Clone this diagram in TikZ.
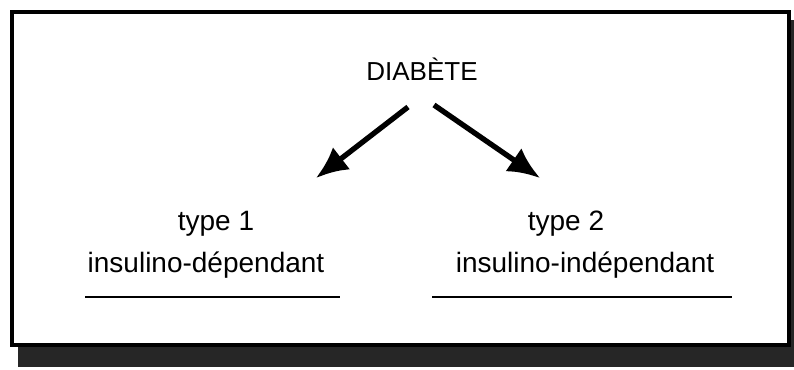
\documentclass[tikz,border=0pt]{standalone}
\usepackage{fontspec}
\setmainfont{Liberation Sans}
\usetikzlibrary{arrows.meta,positioning}

\begin{document}
\begin{tikzpicture}[
  x=0.75pt,y=-0.75pt,
  txt/.style={font=\fontsize{21}{24}\selectfont,inner sep=0pt,anchor=base},
  arrow/.style={-{Latex[length=24pt,width=21pt]},line width=4pt},
  rule/.style={line width=1.6pt}
]
  \useasboundingbox (0,0) rectangle (794,369);
  % frame with its shadow
  \fill[black!85] (18,20) rectangle (794,367);
  \draw[line width=3.2pt,fill=white] (12,12) rectangle (789,345);
  \node[txt,font=\fontsize{19.5}{22}\selectfont] (diab) at (422,80) {DIABÈTE};
  \node[txt] (t1) at (216,230) {type 1};
  \node[txt] (dep1) at (206,272) {insulino-dépendant};
  \node[txt] (t2) at (566,230) {type 2};
  \node[txt] (dep2) at (585,272) {insulino-indépendant};
  \coordinate (l1) at (408,107);
  \coordinate (l2) at (316,178);
  \coordinate (r1) at (434,105);
  \coordinate (r2) at (540,178);
  \draw[arrow] (l1) -- (l2);
  \draw[arrow] (r1) -- (r2);
  \draw[rule] (85,297) -- (340,297);
  \draw[rule] (432,297) -- (732,297);
\end{tikzpicture}
\end{document}
